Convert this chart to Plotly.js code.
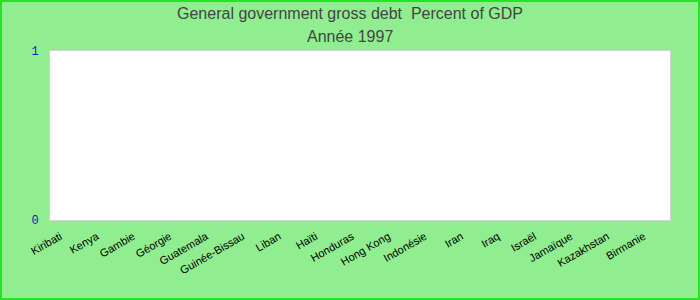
<!DOCTYPE html>
<html>
<head>
<meta charset="utf-8">
<script src="https://cdn.plot.ly/plotly-3.0.1.min.js"></script>
<style>
html,body{margin:0;padding:0;background:#90EE90;}
#wrap{position:relative;width:700px;height:300px;}
#chart{width:700px;height:300px;}
#frame{position:absolute;left:0;top:0;width:700px;height:300px;box-sizing:border-box;border:2px solid #22e622;pointer-events:none;}
</style>
</head>
<body>
<div id="wrap"><div id="chart"></div><div id="frame"></div></div>
<script>
const countries = ["Kiribati","Kenya","Gambie","Géorgie","Guatemala","Guinée-Bissau","Liban","Haïti","Honduras","Hong Kong","Indonésie","Iran","Iraq","Israël","Jamaïque","Kazakhstan","Birmanie"];
const debtValues = [null,null,null,null,null,null,null,null,null,null,null,null,null,null,null,null,null];
const yTickValues = [0, 1];
const yTickLabels = ["0", "1"];
const titleLine1 = "General government gross debt  Percent of GDP";
const titleLine2 = "Année 1997";

const titleFont = {family: "Liberation Sans, Arial", size: 16, color: "#444444"};

Plotly.newPlot("chart", [{
  type: "bar",
  x: countries,
  y: debtValues,
  marker: {color: "#4a7ebb"},
  hoverinfo: "x+y"
}], {
  width: 700, height: 300,
  paper_bgcolor: "#90EE90",
  plot_bgcolor: "#ffffff",
  margin: {l: 50, r: 30, t: 51, b: 80},
  showlegend: false,
  title: {
    text: titleLine1,
    font: titleFont,
    x: 0.5, xanchor: "center",
    yref: "container", y: 1 - 13/300, yanchor: "middle"
  },
  annotations: [{
    text: titleLine2,
    font: titleFont,
    xref: "paper", x: (350 - 50) / 620, xanchor: "center",
    yref: "paper", y: 1 + 15/169, yanchor: "middle",
    showarrow: false
  }],
  xaxis: {
    type: "category",
    tickangle: -30,
    tickfont: {family: "Liberation Sans, Arial", size: 11, color: "#000000"},
    ticklabelshift: -8,
    ticklabelstandoff: 5,
    showgrid: false,
    zeroline: false,
    showline: true, mirror: true, linecolor: "#d3d3d3", linewidth: 1,
    ticks: ""
  },
  yaxis: {
    range: [0, 1],
    tickvals: yTickValues,
    ticktext: yTickLabels,
    tickfont: {family: "Liberation Mono, monospace", size: 12, color: "#1a1ab8"},
    showgrid: false,
    zeroline: false,
    showline: true, mirror: true, linecolor: "#d3d3d3", linewidth: 1,
    ticks: "outside", ticklen: 8, tickcolor: "rgba(0,0,0,0)"
  }
}, {displayModeBar: false, staticPlot: true});
</script>
</body>
</html>
